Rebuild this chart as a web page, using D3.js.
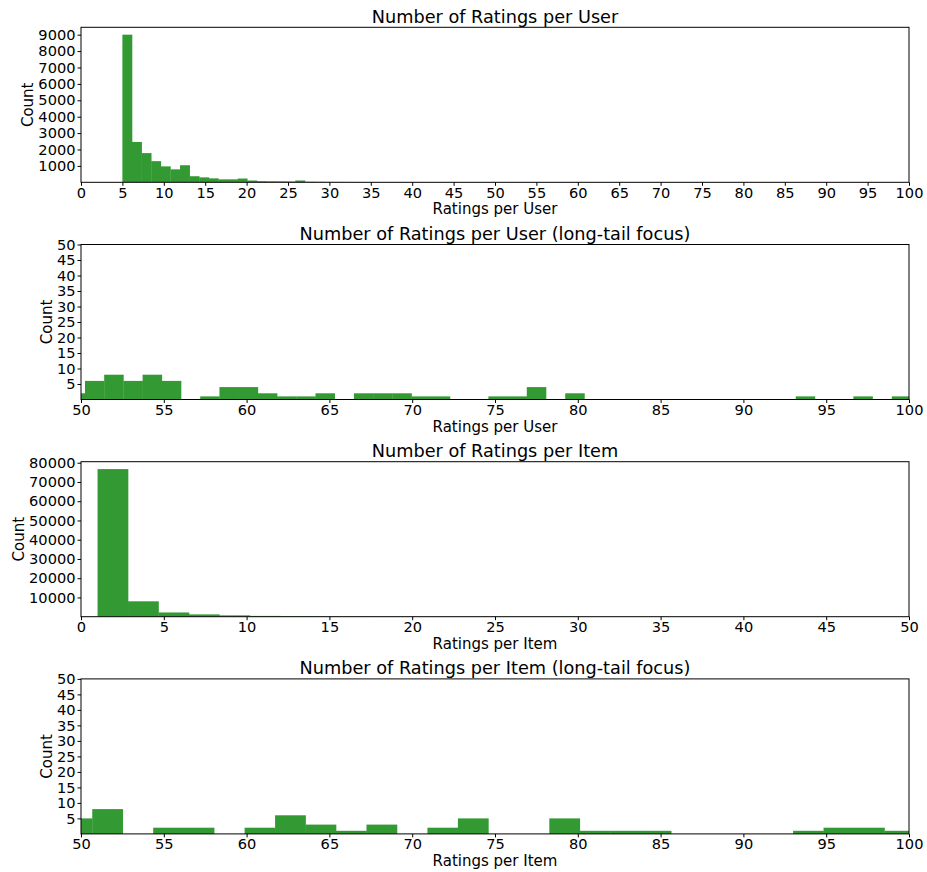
<!DOCTYPE html>
<html>
<head>
<meta charset="utf-8">
<script src="https://cdn.jsdelivr.net/npm/d3@7"></script>
<style>
  body { margin: 0; background: #fff; }
  svg { font-family: "DejaVu Sans", sans-serif; }
</style>
</head>
<body>
<script>
const w = 927;
const h = 872;
const plotLeft = 81;
const plotRight = 909;
const panelTops = [27.3, 244.5, 461.7, 678.9];
const panelH = 155;

// histogram of ratings per user (bins start at 5, each 1.16 wide)
const userBinStart = 5;
const userBinWidth = 1.16;
const userCounts = [
  9000, 2460, 1780, 1290, 970, 790, 1040, 370, 300, 240,
  180, 180, 230, 110, 70, 60, 55, 50, 110, 35,
  30, 25, 22, 20, 18, 15, 14, 12, 11, 10,
  9, 8, 8, 7, 6, 5, 4, 3, 2, 6,
  8, 6, 8, 6, 0, 1, 4, 4, 2, 1,
  1, 2, 0, 2, 2, 2, 1, 1, 0, 0,
  1, 1, 4, 0, 2, 0, 0, 0, 0, 0,
  0, 0, 0, 0, 0, 0, 1, 0, 0, 1,
  0, 1
];

// histogram of ratings per item (bins start at 1, each 1.84 wide)
const itemBinStart = 1;
const itemBinWidth = 1.84;
const itemCounts = [
  76700, 8000, 2200, 1200, 700, 420, 300, 230, 180, 150,
  130, 115, 100, 90, 80, 70, 62, 55, 48, 42,
  36, 30, 25, 20, 16, 12, 5, 8, 0, 2,
  2, 0, 2, 6, 3, 1, 3, 0, 2, 5,
  0, 0, 5, 1, 1, 1, 0, 0, 0, 0,
  1, 2, 2, 1
];

// tick labels
const userXTicks = [0, 5, 10, 15, 20, 25, 30, 35, 40, 45, 50, 55, 60, 65, 70, 75, 80, 85, 90, 95, 100];
const itemXTicks = [0, 5, 10, 15, 20, 25, 30, 35, 40, 45, 50];
const tailXTicks = [50, 55, 60, 65, 70, 75, 80, 85, 90, 95, 100];
const userYTicks = [1000, 2000, 3000, 4000, 5000, 6000, 7000, 8000, 9000];
const itemYTicks = [10000, 20000, 30000, 40000, 50000, 60000, 70000, 80000];
const tailYTicks = [5, 10, 15, 20, 25, 30, 35, 40, 45, 50];

const panels = [
  { title: 'Number of Ratings per User', xlabel: 'Ratings per User',
    counts: userCounts, start: userBinStart, width: userBinWidth,
    xDomain: [0, 100], yMax: d3.max(userCounts) * 1.05, xTicks: userXTicks, yTicks: userYTicks },
  { title: 'Number of Ratings per User (long-tail focus)', xlabel: 'Ratings per User',
    counts: userCounts, start: userBinStart, width: userBinWidth,
    xDomain: [50, 100], yMax: 50, xTicks: tailXTicks, yTicks: tailYTicks },
  { title: 'Number of Ratings per Item', xlabel: 'Ratings per Item',
    counts: itemCounts, start: itemBinStart, width: itemBinWidth,
    xDomain: [0, 50], yMax: d3.max(itemCounts) * 1.05, xTicks: itemXTicks, yTicks: itemYTicks },
  { title: 'Number of Ratings per Item (long-tail focus)', xlabel: 'Ratings per Item',
    counts: itemCounts, start: itemBinStart, width: itemBinWidth,
    xDomain: [50, 100], yMax: 50, xTicks: tailXTicks, yTicks: tailYTicks }
];

const svg = d3.select('body')
  .append('svg')
  .attr('width', w)
  .attr('height', h);

const defs = svg.append('defs');

panels.forEach((p, i) => {
  const top = panelTops[i];
  const bottom = top + panelH;
  const xScale = d3.scaleLinear().domain(p.xDomain).range([plotLeft, plotRight]);
  const yScale = d3.scaleLinear().domain([0, p.yMax]).range([bottom, top]);

  defs.append('clipPath')
    .attr('id', 'clip' + i)
    .append('rect')
    .attr('x', plotLeft)
    .attr('y', top)
    .attr('width', plotRight - plotLeft)
    .attr('height', panelH);

  const bins = p.counts.map((c, k) => ({ c: c, x0: p.start + k * p.width, x1: p.start + (k + 1) * p.width }));

  svg.append('g')
    .attr('clip-path', `url(#clip${i})`)
    .selectAll('rect')
    .data(bins.filter(d => d.c > 0))
    .enter()
    .append('rect')
    .attr('x', d => xScale(d.x0))
    .attr('width', d => xScale(d.x1) - xScale(d.x0) + 0.3)
    .attr('y', d => yScale(d.c))
    .attr('height', d => bottom - yScale(d.c))
    .attr('fill', '#339933');

  const xAxis = svg.append('g')
    .attr('transform', `translate(0,${bottom})`)
    .call(d3.axisBottom(xScale).tickValues(p.xTicks).tickFormat(d3.format('d')).tickSize(3.5).tickPadding(1.5));

  const yAxis = svg.append('g')
    .attr('transform', `translate(${plotLeft},0)`)
    .call(d3.axisLeft(yScale).tickValues(p.yTicks).tickFormat(d3.format('d')).tickSize(3.5).tickPadding(2));

  [xAxis, yAxis].forEach(a => {
    a.select('.domain').remove();
    a.attr('color', '#000');
    a.selectAll('text').style('font-size', '14.6px').style('font-family', '"DejaVu Sans", sans-serif');
  });

  // frame
  svg.append('rect')
    .attr('x', plotLeft)
    .attr('y', top)
    .attr('width', plotRight - plotLeft)
    .attr('height', panelH)
    .attr('fill', 'none')
    .attr('stroke', '#000')
    .attr('stroke-width', 1);

  svg.append('text')
    .attr('x', (plotLeft + plotRight) / 2)
    .attr('y', top - 4.6)
    .style('text-anchor', 'middle')
    .style('font-size', '17.7px')
    .text(p.title);

  svg.append('text')
    .attr('x', (plotLeft + plotRight) / 2)
    .attr('y', bottom + 32)
    .style('text-anchor', 'middle')
    .style('font-size', '15px')
    .text(p.xlabel);

  const box = yAxis.node().getBBox();
  const labelX = plotLeft + box.x - 5;
  svg.append('text')
    .attr('transform', `translate(${labelX},${(top + bottom) / 2}) rotate(-90)`)
    .style('text-anchor', 'middle')
    .style('font-size', '15px')
    .text('Count');
});
</script>
</body>
</html>
